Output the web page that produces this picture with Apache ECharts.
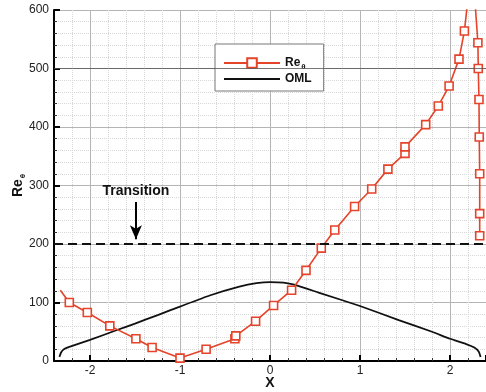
<!DOCTYPE html>
<html>
<head>
<meta charset="utf-8">
<script src="https://cdn.jsdelivr.net/npm/echarts@6/dist/echarts.min.js"></script>
<style>
  html, body { margin: 0; padding: 0; background: #fff; }
  #chart { width: 486px; height: 392px; }
</style>
</head>
<body>
<div id="chart"></div>
<script>
// Re_theta along x (two branches joined above the top of the frame)
const reX = [-2.33, -2.23, -2.03, -1.78, -1.49, -1.31, -1.0, -0.71, -0.39, -0.38, -0.16, 0.04, 0.24, 0.40, 0.57,
  0.72, 0.94, 1.13, 1.31, 1.50, 1.50, 1.73, 1.87, 1.99, 2.10, 2.16, 2.20,
  2.275, 2.31, 2.314, 2.322, 2.325, 2.33, 2.33, 2.33];
const reY = [121, 100, 83, 60, 38, 23, 5, 20, 38, 43, 68, 95, 121, 155, 193,
  224, 264, 294, 328, 355, 366, 404, 436, 470, 516, 564, 620,
  620, 544, 500, 447, 383, 320, 252, 214];

// OML curve
const omlX = [-2.34, -2.32, -2.29, -2.23, -2.0, -1.7, -1.5, -1.24, -1.0, -0.67, -0.34, -0.15, 0, 0.15, 0.28, 0.54,
  1.0, 1.43, 1.8, 2.0, 2.18, 2.27, 2.32, 2.34];
const omlY = [7, 15, 20, 24, 36, 53, 64, 79, 93, 112, 127, 133, 135, 134, 130, 117,
  94, 70, 50, 38, 29, 23, 16, 7];

const transitionRe = 200;   // dashed level
const arrowX = -1.49;

const red = '#e5432a';
const font = 'Liberation Sans, Arial, sans-serif';

// first point has no marker
const reData = reX.map((x, i) => i === 0 ? { value: [x, reY[i]], symbol: 'none' } : [x, reY[i]]);
const omlData = omlX.map((x, i) => [x, omlY[i]]);

const chart = echarts.init(document.getElementById('chart'));

chart.setOption({
  animation: false,
  grid: { left: 54, right: 0, top: 10, bottom: 31, containLabel: false, outerBoundsMode: 'none' },
  legend: {
    data: ['Re', 'OML'],
    orient: 'vertical',
    left: 215,
    top: 44,
    itemWidth: 56,
    itemHeight: 12,
    itemGap: 2,
    padding: [13, 12, 6, 8],
    backgroundColor: '#fff',
    borderColor: '#777',
    borderWidth: 1,
    formatter: function (name) {
      return name === 'Re' ? 'Re{s|θ}' : name;
    },
    textStyle: {
      fontFamily: font, fontWeight: 'bold', fontSize: 12, color: '#111',
      rich: { s: { fontSize: 8, fontFamily: font, padding: [8, 0, 0, 1] } }
    }
  },
  xAxis: {
    type: 'value',
    min: -2.4,
    max: 2.4,
    splitNumber: 5,
    name: 'X',
    nameLocation: 'middle',
    nameGap: 15,
    nameMoveOverlap: false,
    nameTextStyle: { fontFamily: font, fontWeight: 'bold', fontSize: 14, color: '#111' },
    axisLine: { onZero: false, lineStyle: { color: '#000', width: 2 } },
    axisTick: { inside: true, length: 6, lineStyle: { color: '#000', width: 2 } },
    minorTick: { show: true, splitNumber: 5, length: 3, lineStyle: { color: '#333' } },
    axisLabel: { showMinLabel: false, showMaxLabel: false, margin: 4, fontFamily: font, fontSize: 12, color: '#222' },
    splitLine: { show: true, lineStyle: { color: '#b5b5b5', width: 1 } },
    minorSplitLine: { show: true, lineStyle: { color: '#d8d8d8', type: 'dotted' } }
  },
  yAxis: {
    type: 'value',
    min: 0,
    max: 600,
    interval: 100,
    name: 'Re{s|θ}',
    nameLocation: 'middle',
    nameRotate: 90,
    nameGap: 27,
    nameMoveOverlap: false,
    nameTextStyle: {
      fontFamily: font, fontWeight: 'bold', fontSize: 14, color: '#111',
      rich: { s: { fontSize: 8, fontFamily: font, padding: [9, 0, 0, 1] } }
    },
    axisLine: { onZero: false, lineStyle: { color: '#000', width: 2 } },
    axisTick: { inside: true, length: 6, lineStyle: { color: '#000', width: 2 } },
    minorTick: { show: true, splitNumber: 5, length: 3, lineStyle: { color: '#333' } },
    axisLabel: { margin: 5, fontFamily: font, fontSize: 12, color: '#222' },
    splitLine: { show: true, lineStyle: { color: '#b5b5b5', width: 1 } },
    minorSplitLine: { show: true, lineStyle: { color: '#d8d8d8', type: 'dotted' } }
  },
  series: [
    {
      name: 'Re',
      type: 'line',
      data: reData,
      clip: true,
      symbol: 'rect',
      symbolSize: 8,
      lineStyle: { color: red, width: 1.6 },
      itemStyle: { color: '#fff', borderColor: red, borderWidth: 1.6 },
      z: 4
    },
    {
      name: 'OML',
      type: 'line',
      data: omlData,
      smooth: 0.15,
      showSymbol: false,
      symbol: 'none',
      lineStyle: { color: '#111', width: 1.8 },
      itemStyle: { color: 'rgba(0,0,0,0)' },   // keeps the legend icon a bare line
      z: 3
    },
    {
      // annotations: transition level, arrow, label
      name: 'annot',
      type: 'line',
      data: [],
      markLine: {
        silent: true,
        animation: false,
        symbol: ['none', 'none'],
        label: { show: false },
        data: [
          { yAxis: 500, lineStyle: { color: '#555', width: 0.8, type: 'solid' } },
          { yAxis: transitionRe, lineStyle: { color: '#111', width: 2, type: [9, 5] } },
          [
            { coord: [arrowX, 272], symbol: 'none', lineStyle: { color: '#000', width: 2, type: 'solid' } },
            { coord: [arrowX, 208], symbol: 'arrow', symbolSize: [9, 14] }
          ]
        ]
      },
      markPoint: {
        silent: true,
        symbol: 'rect',
        symbolSize: 0,
        label: {
          show: true, position: 'inside', formatter: 'Transition',
          fontFamily: font, fontWeight: 'bold', fontSize: 14, color: '#111'
        },
        data: [{ coord: [arrowX, 290] }]
      }
    }
  ]
});
</script>
</body>
</html>
